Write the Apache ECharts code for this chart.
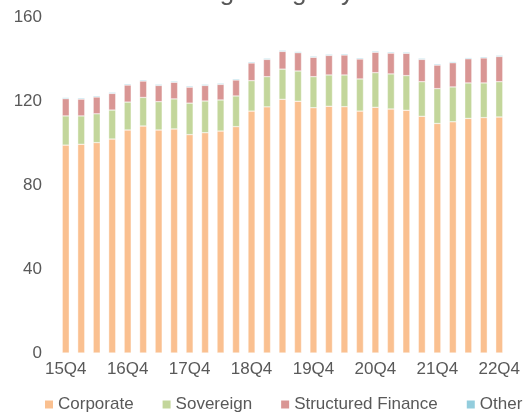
<!DOCTYPE html>
<html>
<head>
<meta charset="utf-8">
<script src="https://cdn.jsdelivr.net/npm/echarts@6/dist/echarts.min.js"></script>
<style>
    html, body { margin: 0; padding: 0; background: #fff; }
    #chart { width: 526px; height: 412px; }
</style>
</head>
<body>
<div id="chart"></div>
<script>
// quarters 15Q4 .. 22Q4
const quarters = [
    '15Q4', '16Q1', '16Q2', '16Q3', '16Q4', '17Q1', '17Q2', '17Q3', '17Q4',
    '18Q1', '18Q2', '18Q3', '18Q4', '19Q1', '19Q2', '19Q3', '19Q4',
    '20Q1', '20Q2', '20Q3', '20Q4', '21Q1', '21Q2', '21Q3', '21Q4',
    '22Q1', '22Q2', '22Q3', '22Q4'
];

const corporate = [99.0, 99.4, 100.2, 101.9, 106.2, 108.1, 106.2, 106.7, 104.0, 104.9, 105.7, 107.8, 115.2, 117.2, 120.8,
    119.9, 116.8, 117.5, 117.3, 115.2, 117.0, 116.2, 115.6, 112.7, 109.3, 110.1, 111.7, 112.1, 112.4];
const sovereign = [13.9, 13.5, 13.7, 13.8, 13.3, 13.6, 13.5, 14.3, 15.0, 15.1, 14.8, 14.6, 14.5, 14.4, 14.4,
    14.4, 14.8, 14.9, 15.1, 15.3, 16.5, 16.7, 16.5, 16.5, 16.6, 16.6, 16.9, 16.5, 16.8];
const structured = [8.2, 8.0, 8.0, 7.9, 8.1, 7.8, 7.7, 7.9, 7.6, 7.4, 7.4, 7.6, 8.4, 8.2, 8.4,
    8.7, 9.2, 9.3, 9.5, 9.5, 9.7, 9.9, 10.6, 10.6, 11.2, 11.5, 11.5, 11.9, 12.0];
const other = [0.5, 0.5, 0.5, 0.5, 0.5, 0.5, 0.5, 0.5, 0.5, 0.5, 0.5, 0.5, 0.5, 0.5, 0.5,
    0.5, 0.5, 0.5, 0.5, 0.5, 0.5, 0.5, 0.5, 0.5, 0.5, 0.5, 0.5, 0.5, 0.5];

const yTicks = [0, 40, 80, 120, 160];

const textColor = '#595959';
const fontFamily = 'Liberation Sans, Arial, sans-serif';

const myChart = echarts.init(document.getElementById('chart'), null, { renderer: 'canvas' });

const makeSeries = (name, data, color) => ({
    name: name,
    type: 'bar',
    stack: 'total',
    barWidth: 7,
    data: data,
    itemStyle: { color: color, borderColor: '#ffffff', borderWidth: 0.4 },
    emphasis: { disabled: true }
});

const option = {
    animation: false,
    title: {
        text: 'Outstanding ratings by sector',
        left: 'center',
        top: -25,
        textStyle: { color: textColor, fontSize: 26, fontWeight: 'normal', fontFamily: fontFamily }
    },
    legend: {
        left: 43,
        bottom: -1,
        padding: 0,
        width: 700,
        itemWidth: 10,
        itemHeight: 10,
        itemGap: 27,
        icon: 'rect',
        textStyle: { color: textColor, fontSize: 17, fontFamily: fontFamily, padding: [0, 0, 0, -1] },
        data: ['Corporate', 'Sovereign', 'Structured Finance', 'Other']
    },
    grid: {
        left: 58,
        right: 19,
        top: 17,
        bottom: 59,
        containLabel: false
    },
    xAxis: {
        type: 'category',
        data: quarters,
        axisLine: { show: false },
        axisTick: { show: false },
        axisLabel: {
            interval: 3,
            margin: 8,
            color: textColor,
            fontSize: 17,
            fontFamily: fontFamily
        }
    },
    yAxis: {
        type: 'value',
        min: yTicks[0],
        max: yTicks[yTicks.length - 1],
        interval: 40,
        axisLine: { show: false },
        axisTick: { show: false },
        splitLine: { show: false },
        axisLabel: {
            margin: 16,
            color: textColor,
            fontSize: 17,
            fontFamily: fontFamily
        }
    },
    series: [
        makeSeries('Corporate', corporate, '#FAC090'),
        makeSeries('Sovereign', sovereign, '#C3D69B'),
        makeSeries('Structured Finance', structured, '#D99694'),
        makeSeries('Other', other, '#93CDDD')
    ]
};

myChart.setOption(option);
</script>
</body>
</html>
